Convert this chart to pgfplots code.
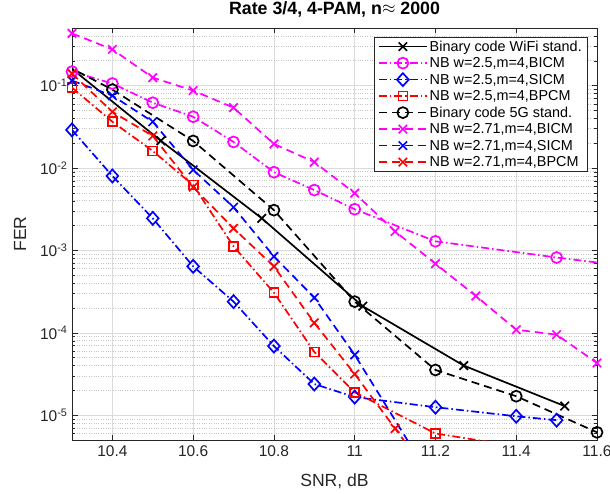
\documentclass[border=0pt]{standalone}
\usepackage{fontspec}
\setmainfont{Liberation Sans}
\usepackage{pgfplots}
\pgfplotsset{compat=1.18}
\definecolor{axgray}{rgb}{0.15,0.15,0.15}
\definecolor{gridgray}{rgb}{0.86,0.86,0.86}
\definecolor{mingray}{rgb}{0.78,0.78,0.78}
\definecolor{mmag}{rgb}{1,0,1}
\definecolor{mblue}{rgb}{0,0,1}
\definecolor{mred}{rgb}{1,0,0}
\tikzset{
  mdash/.style={line width=1.7pt, dash pattern=on 8pt off 5pt},
  mdashdot/.style={line width=1.7pt, dash pattern=on 8pt off 3pt on 1.5pt off 3pt},
  msolid/.style={line width=1.7pt, solid},
}
\begin{document}
\begin{tikzpicture}
\begin{axis}[
  scale only axis, width=525pt, height=412pt,
  ymode=log, xmin=10.3, xmax=11.6, ymin=5e-6, ymax=0.5,
  xtick={10.4,10.6,10.8,11,11.2,11.4,11.6},
  xticklabels={10.4,10.6,10.8,11,11.2,11.4,11.6},
  ytick={1e-5,1e-4,1e-3,1e-2,1e-1},
  yticklabels={10\textsuperscript{-5},10\textsuperscript{-4},10\textsuperscript{-3},10\textsuperscript{-2},10\textsuperscript{-1}},
  minor ytick={6e-6,7e-6,8e-6,9e-6,2e-5,3e-5,4e-5,5e-5,6e-5,7e-5,8e-5,9e-5,2e-4,3e-4,4e-4,5e-4,6e-4,7e-4,8e-4,9e-4,2e-3,3e-3,4e-3,5e-3,6e-3,7e-3,8e-3,9e-3,2e-2,3e-2,4e-2,5e-2,6e-2,7e-2,8e-2,9e-2,2e-1,3e-1,4e-1},
  xmajorgrids, ymajorgrids, yminorgrids,
  major grid style={solid, line width=0.5pt, draw=gridgray},
  minor grid style={dotted, line width=0.6pt, draw=mingray},
  tick align=inside,
  major tick length=5.5pt, minor tick length=3pt,
  every tick/.style={axgray, line width=0.5pt},
  axis line style={axgray, line width=0.6pt},
  tick label style={font=\fontsize{15.5}{17}\selectfont, text=axgray},
  xticklabel style={yshift=-2pt},
  yticklabel style={xshift=-1pt},
  title={\bfseries Rate 3/4, 4-PAM, n\raisebox{0.1ex}{$\approx$} 2000},
  title style={font=\fontsize{17.8}{19}\selectfont, at={(axis description cs:0.5,1)}, anchor=base, yshift=8pt, inner sep=0pt},
  xlabel={SNR, dB},
  xlabel style={font=\fontsize{17.6}{19}\selectfont, text=axgray, at={(axis description cs:0.5,0)}, anchor=base, yshift=-46pt},
  ylabel={FER},
  ylabel style={font=\fontsize{17.6}{19}\selectfont, text=axgray, at={(axis description cs:-0.099,0.5)}, anchor=center, rotate=0},
  legend style={at={(axis description cs:0.983,0.978)}, anchor=north east,
    font=\fontsize{14.4}{16}\selectfont, draw=axgray, line width=0.6pt, fill=white,
    inner xsep=4pt, inner ysep=1pt, row sep=0pt,
    cells={inner xsep=2pt, inner ysep=2.9pt, text height=11pt, text depth=3.5pt}},
  legend cell align=left,
  legend image code/.code={
    \draw[mark repeat=2,mark phase=2,#1] plot coordinates {(0pt,0pt) (24pt,0pt) (48pt,0pt)};
  },
]
% Binary code WiFi stand.
\addplot[black, msolid, mark=x, mark size=6pt, mark options={solid}] coordinates {
(10.27,0.21) (10.52,0.0214) (10.77,2.45e-3) (11.02,2.1e-4) (11.27,4.0e-5) (11.52,1.29e-5)};
% NB w=2.5 BICM
\addplot[mmag, mdashdot, mark=o, mark size=5.5pt, mark options={solid}] coordinates {
(10.3,0.148) (10.4,0.106) (10.5,0.062) (10.6,0.0419) (10.7,0.0207) (10.8,0.0089) (10.9,0.0054) (11.0,0.00316) (11.2,0.00129) (11.5,0.00082) (11.7,0.00062)};
% NB w=2.5 SICM
\addplot[mblue, mdashdot, mark=diamond, mark size=6.5pt, mark options={solid, xscale=1.2}] coordinates {
(10.3,0.029) (10.4,0.0080) (10.5,0.00245) (10.6,6.4e-4) (10.7,2.39e-4) (10.8,6.9e-5) (10.9,2.39e-5) (11.0,1.66e-5) (11.2,1.25e-5) (11.4,9.7e-6) (11.5,8.7e-6)};
% NB w=2.5 BPCM
\addplot[mred, mdashdot, mark=square, mark size=4.5pt, mark options={solid}] coordinates {
(10.3,0.0946) (10.4,0.0364) (10.5,0.0161) (10.6,0.0062) (10.7,1.12e-3) (10.8,3.07e-4) (10.9,5.86e-5) (11.0,1.9e-5) (11.2,6.0e-6) (11.4,4.2e-6)};
% Binary code 5G stand.
\addplot[black, mdash, mark=o, mark size=5.5pt, mark options={solid}] coordinates {
(10.2,0.29) (10.4,0.0893) (10.6,0.0213) (10.8,3.08e-3) (11.0,2.39e-4) (11.2,3.54e-5) (11.4,1.7e-5) (11.6,6.2e-6)};
% NB w=2.71 BICM
\addplot[mmag, mdash, mark=x, mark size=6pt, mark options={solid}] coordinates {
(10.3,0.43) (10.4,0.275) (10.5,0.125) (10.6,0.087) (10.7,0.054) (10.8,0.0196) (10.9,0.0118) (11.0,0.00495) (11.1,0.0017) (11.2,6.9e-4) (11.3,2.8e-4) (11.4,1.09e-4) (11.5,9.5e-5) (11.6,4.3e-5)};
% NB w=2.71 SICM
\addplot[mblue, mdash, mark=x, mark size=6pt, mark options={solid}] coordinates {
(10.3,0.115) (10.4,0.0755) (10.5,0.0364) (10.6,0.0095) (10.7,0.00334) (10.8,8.45e-4) (10.9,2.67e-4) (11.0,5.4e-5) (11.2,1.4e-6)};
% NB w=2.71 BPCM
\addplot[mred, mdash, mark=x, mark size=6pt, mark options={solid}] coordinates {
(10.3,0.14) (10.4,0.048) (10.5,0.0245) (10.6,0.00586) (10.7,0.00185) (10.8,6.4e-4) (10.9,1.32e-4) (11.0,3.16e-5) (11.1,6.9e-6) (11.2,1.5e-6)};
\legend{Binary code WiFi stand.,{NB w=2.5,m=4,BICM},{NB w=2.5,m=4,SICM},{NB w=2.5,m=4,BPCM},Binary code 5G stand.,{NB w=2.71,m=4,BICM},{NB w=2.71,m=4,SICM},{NB w=2.71,m=4,BPCM}}
\end{axis}
\pgfresetboundingbox
\path (-72pt,-53pt) rectangle (538pt,440pt);
\end{tikzpicture}
\end{document}
